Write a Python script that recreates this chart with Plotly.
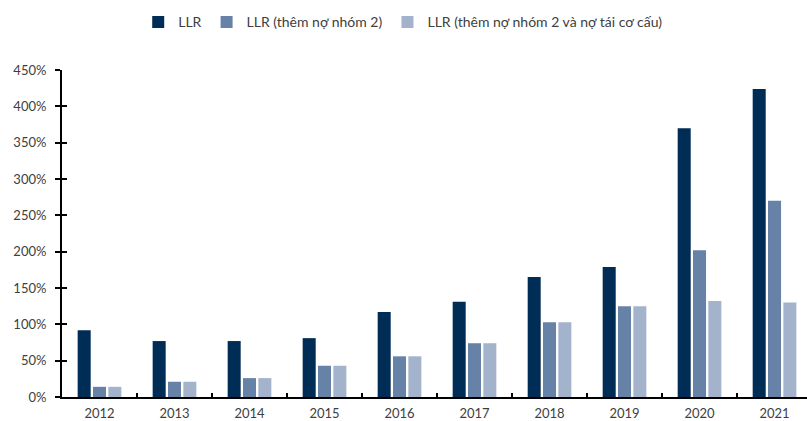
import plotly.graph_objects as go

years = ["2012", "2013", "2014", "2015", "2016", "2017", "2018", "2019", "2020", "2021"]
llr = [92, 77, 77, 81, 117, 131, 165, 179, 370, 424]
llr_g2 = [14, 21, 26, 43, 56, 74, 103, 125, 202, 270]
llr_g2_restr = [14, 21, 26, 43, 56, 74, 103, 125, 132, 130]

series_names = ["LLR", "LLR (thêm nợ nhóm 2)", "LLR (thêm nợ nhóm 2 và nợ tái cơ cấu)"]
colors = ["#002D56", "#6682A7", "#A3B3CC"]
ytick_vals = list(range(0, 451, 50))
ytick_text = [f"{v}%" for v in ytick_vals]

fig = go.Figure()
for name, vals, col in zip(series_names, [llr, llr_g2, llr_g2_restr], colors):
    fig.add_trace(go.Bar(x=years, y=vals, name=name, marker=dict(color=col, line=dict(width=0))))

font_family = "Lato, 'Open Sans', sans-serif"
fig.update_layout(
    width=807, height=421,
    margin=dict(l=62, r=0, t=70, b=24, autoexpand=False),
    paper_bgcolor="white", plot_bgcolor="white",
    barmode="group", bargap=0.387, bargroupgap=0.15,
    font=dict(family=font_family, size=13, color="#404040"),
    legend=dict(orientation="h", x=0.458, xanchor="center", y=0.985, yref="container",
                yanchor="top", font=dict(size=14, color="#404040"),
                traceorder="normal"),
    showlegend=True,
    xaxis=dict(
        type="category", range=[-0.5, 9.433], automargin=False,
        showline=True, linecolor="black", linewidth=2,
        ticks="inside", tickson="boundaries", ticklen=4, tickwidth=2, tickcolor="black",
        showgrid=False, ticklabelstandoff=3,
        tickfont=dict(size=13, color="#404040"),
    ),
    yaxis=dict(
        range=[0, 450], tickmode="array", tickvals=ytick_vals, ticktext=ytick_text,
        automargin=False,
        showline=True, linecolor="black", linewidth=2,
        ticks="outside", ticklen=5, tickwidth=2, tickcolor="black",
        showgrid=False, zeroline=False, ticklabelstandoff=6,
        tickfont=dict(size=13, color="#404040"),
    ),
    yaxis2=dict(overlaying="y", range=[0, 450], tickmode="array", tickvals=ytick_vals,
                ticks="inside", ticklen=5, tickwidth=2, tickcolor="black",
                showticklabels=False, showgrid=False, zeroline=False, automargin=False,
                showline=False, side="left", anchor="x"),
)
fig.add_trace(go.Scatter(x=[years[0]], y=[0], yaxis="y2", mode="markers",
                         marker=dict(opacity=0), showlegend=False, hoverinfo="skip"))

fig.write_html("out.html")
